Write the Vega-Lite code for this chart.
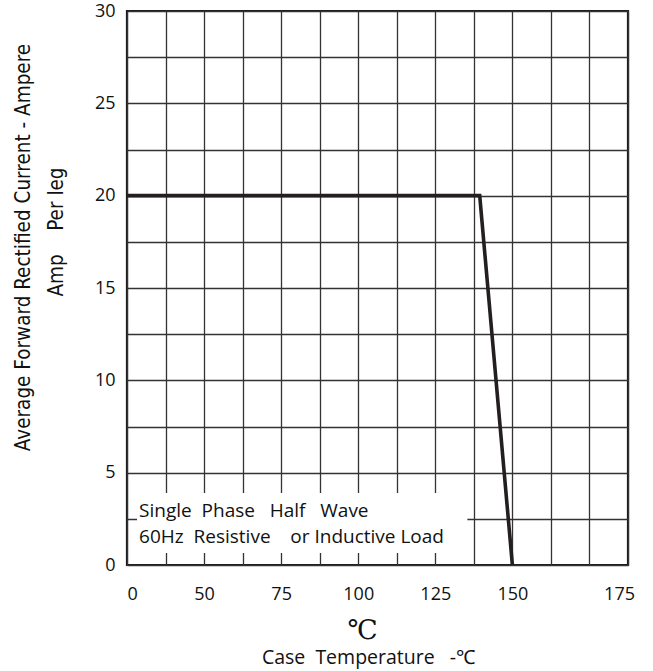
{
  "$schema": "https://vega.github.io/schema/vega-lite/v6.json",
  "width": 501,
  "height": 554,
  "autosize": {"type": "none"},
  "padding": {"left": 127, "top": 11, "right": 25, "bottom": 106},
  "background": "white",
  "config": {
    "view": {"stroke": "#1a1a1a", "strokeWidth": 2.2},
    "axis": {"gridColor": "#333333", "gridWidth": 1.3, "gridOpacity": 1, "labelColor": "#111111", "titleColor": "#111111"}
  },
  "datasets": {
    "curve": [
      {"t": 0, "a": 20},
      {"t": 139.4, "a": 20},
      {"t": 150, "a": 0}
    ],
    "box": [
      {"t0": 6.5, "t1": 135.4, "a0": 0.65, "a1": 3.9}
    ],
    "note": [
      {"t": 7.8, "a": 2.6, "label": "Single\u00a0\u00a0Phase\u00a0\u00a0\u00a0Half\u00a0\u00a0\u00a0Wave"},
      {"t": 7.8, "a": 1.19, "label": "60Hz\u00a0\u00a0Resistive\u00a0\u00a0\u00a0\u00a0or Inductive Load"}
    ]
  },
  "layer": [
    {
      "data": {"name": "box"},
      "mark": {"type": "rect", "fill": "white", "stroke": null},
      "encoding": {
        "x": {
          "field": "t0", "type": "quantitative",
          "scale": {"domain": [0, 50, 150, 187.5], "range": [0, 77.08, 385.38, 501], "nice": false, "zero": false},
          "axis": {
            "orient": "bottom",
            "values": [0, 50, 75, 100, 125, 150, 184.6],
            "labelExpr": "datum.value > 180 ? '175' : datum.label",
            "grid": false, "ticks": false, "domain": false,
            "labelPadding": 20, "labelFont": "Open Sans", "labelFontSize": 18,
            "title": "℃", "titleFont": "DejaVu Serif", "titleFontSize": 27, "titleFontWeight": "normal",
            "titleX": 235, "titleY": 73, "titleBaseline": "alphabetic", "titleAlign": "center"
          }
        },
        "x2": {"field": "t1"},
        "y": {
          "field": "a0", "type": "quantitative",
          "scale": {"domain": [0, 30], "nice": false, "zero": true},
          "axis": {
            "values": [0, 2.5, 5, 7.5, 10, 12.5, 15, 17.5, 20, 22.5, 25, 27.5, 30],
            "labelExpr": "datum.value % 5 == 0 ? datum.label : ''",
            "grid": true, "ticks": false, "tickSize": 0, "domain": false,
            "labelPadding": 12, "labelFont": "Open Sans", "labelFontSize": 18,
            "title": ["Average Forward Rectified Current - Ampere", "\u2800\u00a0\u00a0\u00a0Amp\u00a0\u00a0\u00a0\u00a0Per leg"],
            "titleFont": "'Liberation Sans Narrow', 'DejaVu Sans Condensed', sans-serif",
            "titleFontSize": 20.5, "titleFontWeight": "normal", "titleLineHeight": 33,
            "titleAngle": -90, "titleX": -98, "titleY": 236, "titleBaseline": "alphabetic", "titleAlign": "center"
          }
        },
        "y2": {"field": "a1"}
      }
    },
    {
      "data": {"name": "curve"},
      "mark": {"type": "line", "color": "#231f20", "strokeWidth": 3.6, "strokeJoin": "miter"},
      "encoding": {
        "x": {
          "field": "t", "type": "quantitative",
          "axis": {
            "orient": "top",
            "values": [0, 25, 50, 62.5, 75, 87.5, 100, 112.5, 125, 137.5, 150, 162.5, 175, 187.5],
            "grid": true, "labels": false, "ticks": false, "domain": false,
            "title": "Case\u00a0\u00a0Temperature\u00a0\u00a0\u00a0-℃", "titleFont": "Open Sans", "titleFontSize": 19.5, "titleFontWeight": "normal",
            "titleX": 241, "titleY": 652, "titleBaseline": "alphabetic", "titleAlign": "center"
          }
        },
        "y": {"field": "a", "type": "quantitative"}
      }
    },
    {
      "data": {"name": "note"},
      "mark": {"type": "text", "align": "left", "baseline": "alphabetic", "font": "Open Sans", "fontSize": 19, "color": "#111111"},
      "encoding": {
        "x": {"field": "t", "type": "quantitative", "axis": null},
        "y": {"field": "a", "type": "quantitative"},
        "text": {"field": "label"}
      }
    }
  ],
  "resolve": {"axis": {"x": "independent"}}
}
